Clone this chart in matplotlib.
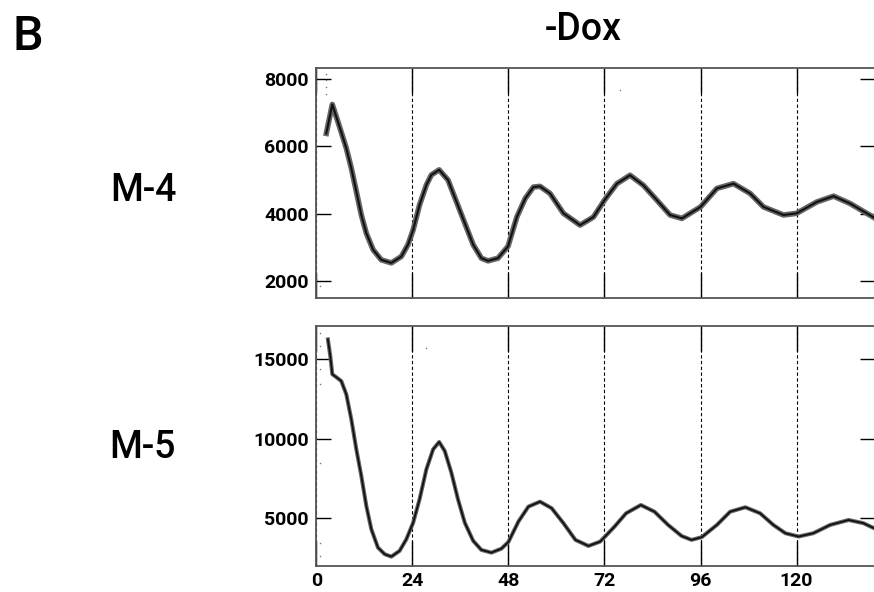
import matplotlib
matplotlib.use('Agg')
import matplotlib.pyplot as plt

plt.rcParams['font.family'] = ['Roboto', 'DejaVu Sans']

# M-4 trace (hours, signal)
m4_t = [2.5, 4.0, 5.8, 7.5, 8.75, 10.0, 11.25, 12.5, 14.2, 16.25, 18.75, 21.25,
        22.9, 24.2, 25.8, 27.5, 28.75, 30.7, 32.9, 35.0, 37.1, 39.2, 41.25, 42.9,
        45.4, 47.9, 50.1, 52.2, 54.25, 55.9, 58.4, 61.75, 65.9, 69.25, 72.0, 75.1,
        78.4, 81.75, 85.1, 88.4, 91.35, 96.0, 100.1, 104.25, 108.4, 111.75, 116.75,
        120.0, 125.1, 129.25, 133.4, 139.4]
m4_v = [6380, 7240, 6580, 5940, 5350, 4660, 3960, 3420, 2930, 2630, 2540, 2730,
        3080, 3520, 4260, 4850, 5150, 5300, 5000, 4360, 3720, 3080, 2680, 2600,
        2680, 3030, 3900, 4450, 4790, 4810, 4600, 4010, 3660, 3900, 4400, 4890,
        5140, 4840, 4400, 3960, 3860, 4200, 4750, 4890, 4600, 4200, 3960,
        4010, 4350, 4520, 4300, 3880]

# M-5 trace
m5_t = [2.9, 3.5, 4.0, 5.2, 6.25, 7.5, 8.75, 10.0, 11.25, 12.5, 13.75, 15.4,
        17.1, 18.75, 20.8, 22.5, 24.2, 25.8, 27.5, 29.2, 30.7, 32.1, 33.75, 35.4,
        37.1, 39.2, 41.25, 43.75, 46.25, 48.0, 50.5, 53.0, 55.9, 58.8, 61.75,
        64.75, 68.0, 70.9, 72.0, 74.5, 77.4, 81.1, 84.5, 87.9, 91.25, 93.75, 96.3,
        100.1, 103.4, 107.2, 110.9, 114.2, 117.2, 120.5, 124.2, 128.4, 133.0,
        136.7, 139.4]
m5_v = [16230, 15180, 14040, 13820, 13610, 12780, 11210, 9330, 7650, 5770, 4310,
        3160, 2740, 2590, 2950, 3680, 4720, 6190, 8070, 9330, 9790, 9220, 7860,
        6190, 4720, 3580, 3010, 2840, 3090, 3510, 4790, 5730, 6040, 5630, 4690,
        3640, 3260, 3530, 3810, 4470, 5310, 5830, 5410, 4580, 3890, 3640, 3810,
        4580, 5410, 5690, 5310, 4580, 4060, 3850, 4060, 4580, 4890, 4690, 4370]

# stray points
m4_out_t = [2.4, 2.4, 2.4, 2.4, 0.8, 75.9]
m4_out_v = [8150, 7950, 7750, 7550, 1850, 7680]
m5_out_t = [0.8, 0.9, 0.8, 1.0, 0.9, 0.8, 1.0, 27.4]
m5_out_v = [16650, 15810, 14350, 13410, 8490, 3470, 2640, 15700]

hour_ticks = [0, 24, 48, 72, 96, 120]

fig = plt.figure(figsize=(8.74, 5.92), dpi=100)
ax1 = fig.add_axes([316.3 / 874, 0.4961, (875 - 316.3) / 874, 0.3896])
ax2 = fig.add_axes([316.3 / 874, 0.0439, (875 - 316.3) / 874, 0.4054])

panels = [(ax1, m4_t, m4_v, m4_out_t, m4_out_v, (1490, 8330), [2000, 4000, 6000, 8000], 4.0, 1.5),
          (ax2, m5_t, m5_v, m5_out_t, m5_out_v, (2000, 17070), [5000, 10000, 15000], 2.9, 1.3)]

for ax, t, v, ot, ov, ylim, yt, lw_halo, lw_core in panels:
    ax.plot(t, v, color='#666666', lw=lw_halo, solid_joinstyle='round', zorder=3)
    ax.plot(t, v, color='#111111', lw=lw_core, solid_joinstyle='round', zorder=4)
    ax.scatter(ot, ov, s=1.2, color='#777777', zorder=3, linewidths=0)
    ax.set_xlim(0, 139.6)
    ax.set_ylim(*ylim)
    ax.set_xticks(hour_ticks)
    ax.set_yticks(yt)
    ax.grid(axis='x', color='black', lw=0.8, linestyle=(0, (3, 2.2)))
    ax.tick_params(axis='x', direction='in', length=18, width=1.0, top=True, bottom=True, pad=4)
    ax.tick_params(axis='y', direction='in', length=11, width=1.0, left=True, right=True, pad=5.5)
    for lab in ax.get_xticklabels() + ax.get_yticklabels():
        lab.set_fontsize(14)
        lab.set_fontweight('bold')
    for side in ['left', 'top', 'bottom']:
        ax.spines[side].set_color('#555555')
        ax.spines[side].set_linewidth(1.3)
    ax.spines['right'].set_visible(False)

ax1.tick_params(axis='x', labelbottom=False)

fig.text(12 / 874, 1 - 50 / 592, 'B', fontsize=35, fontweight='medium', va='baseline', ha='left')
fig.text(583 / 874, 1 - 40 / 592, '-Dox', fontsize=27, fontweight='medium', va='baseline', ha='center')
fig.text(143 / 874, 1 - 201 / 592, 'M-4', fontsize=27, fontweight='medium', va='baseline', ha='center')
fig.text(142 / 874, 1 - 458 / 592, 'M-5', fontsize=27, fontweight='medium', va='baseline', ha='center')

plt.savefig('out.png', dpi=100)
plt.close()
